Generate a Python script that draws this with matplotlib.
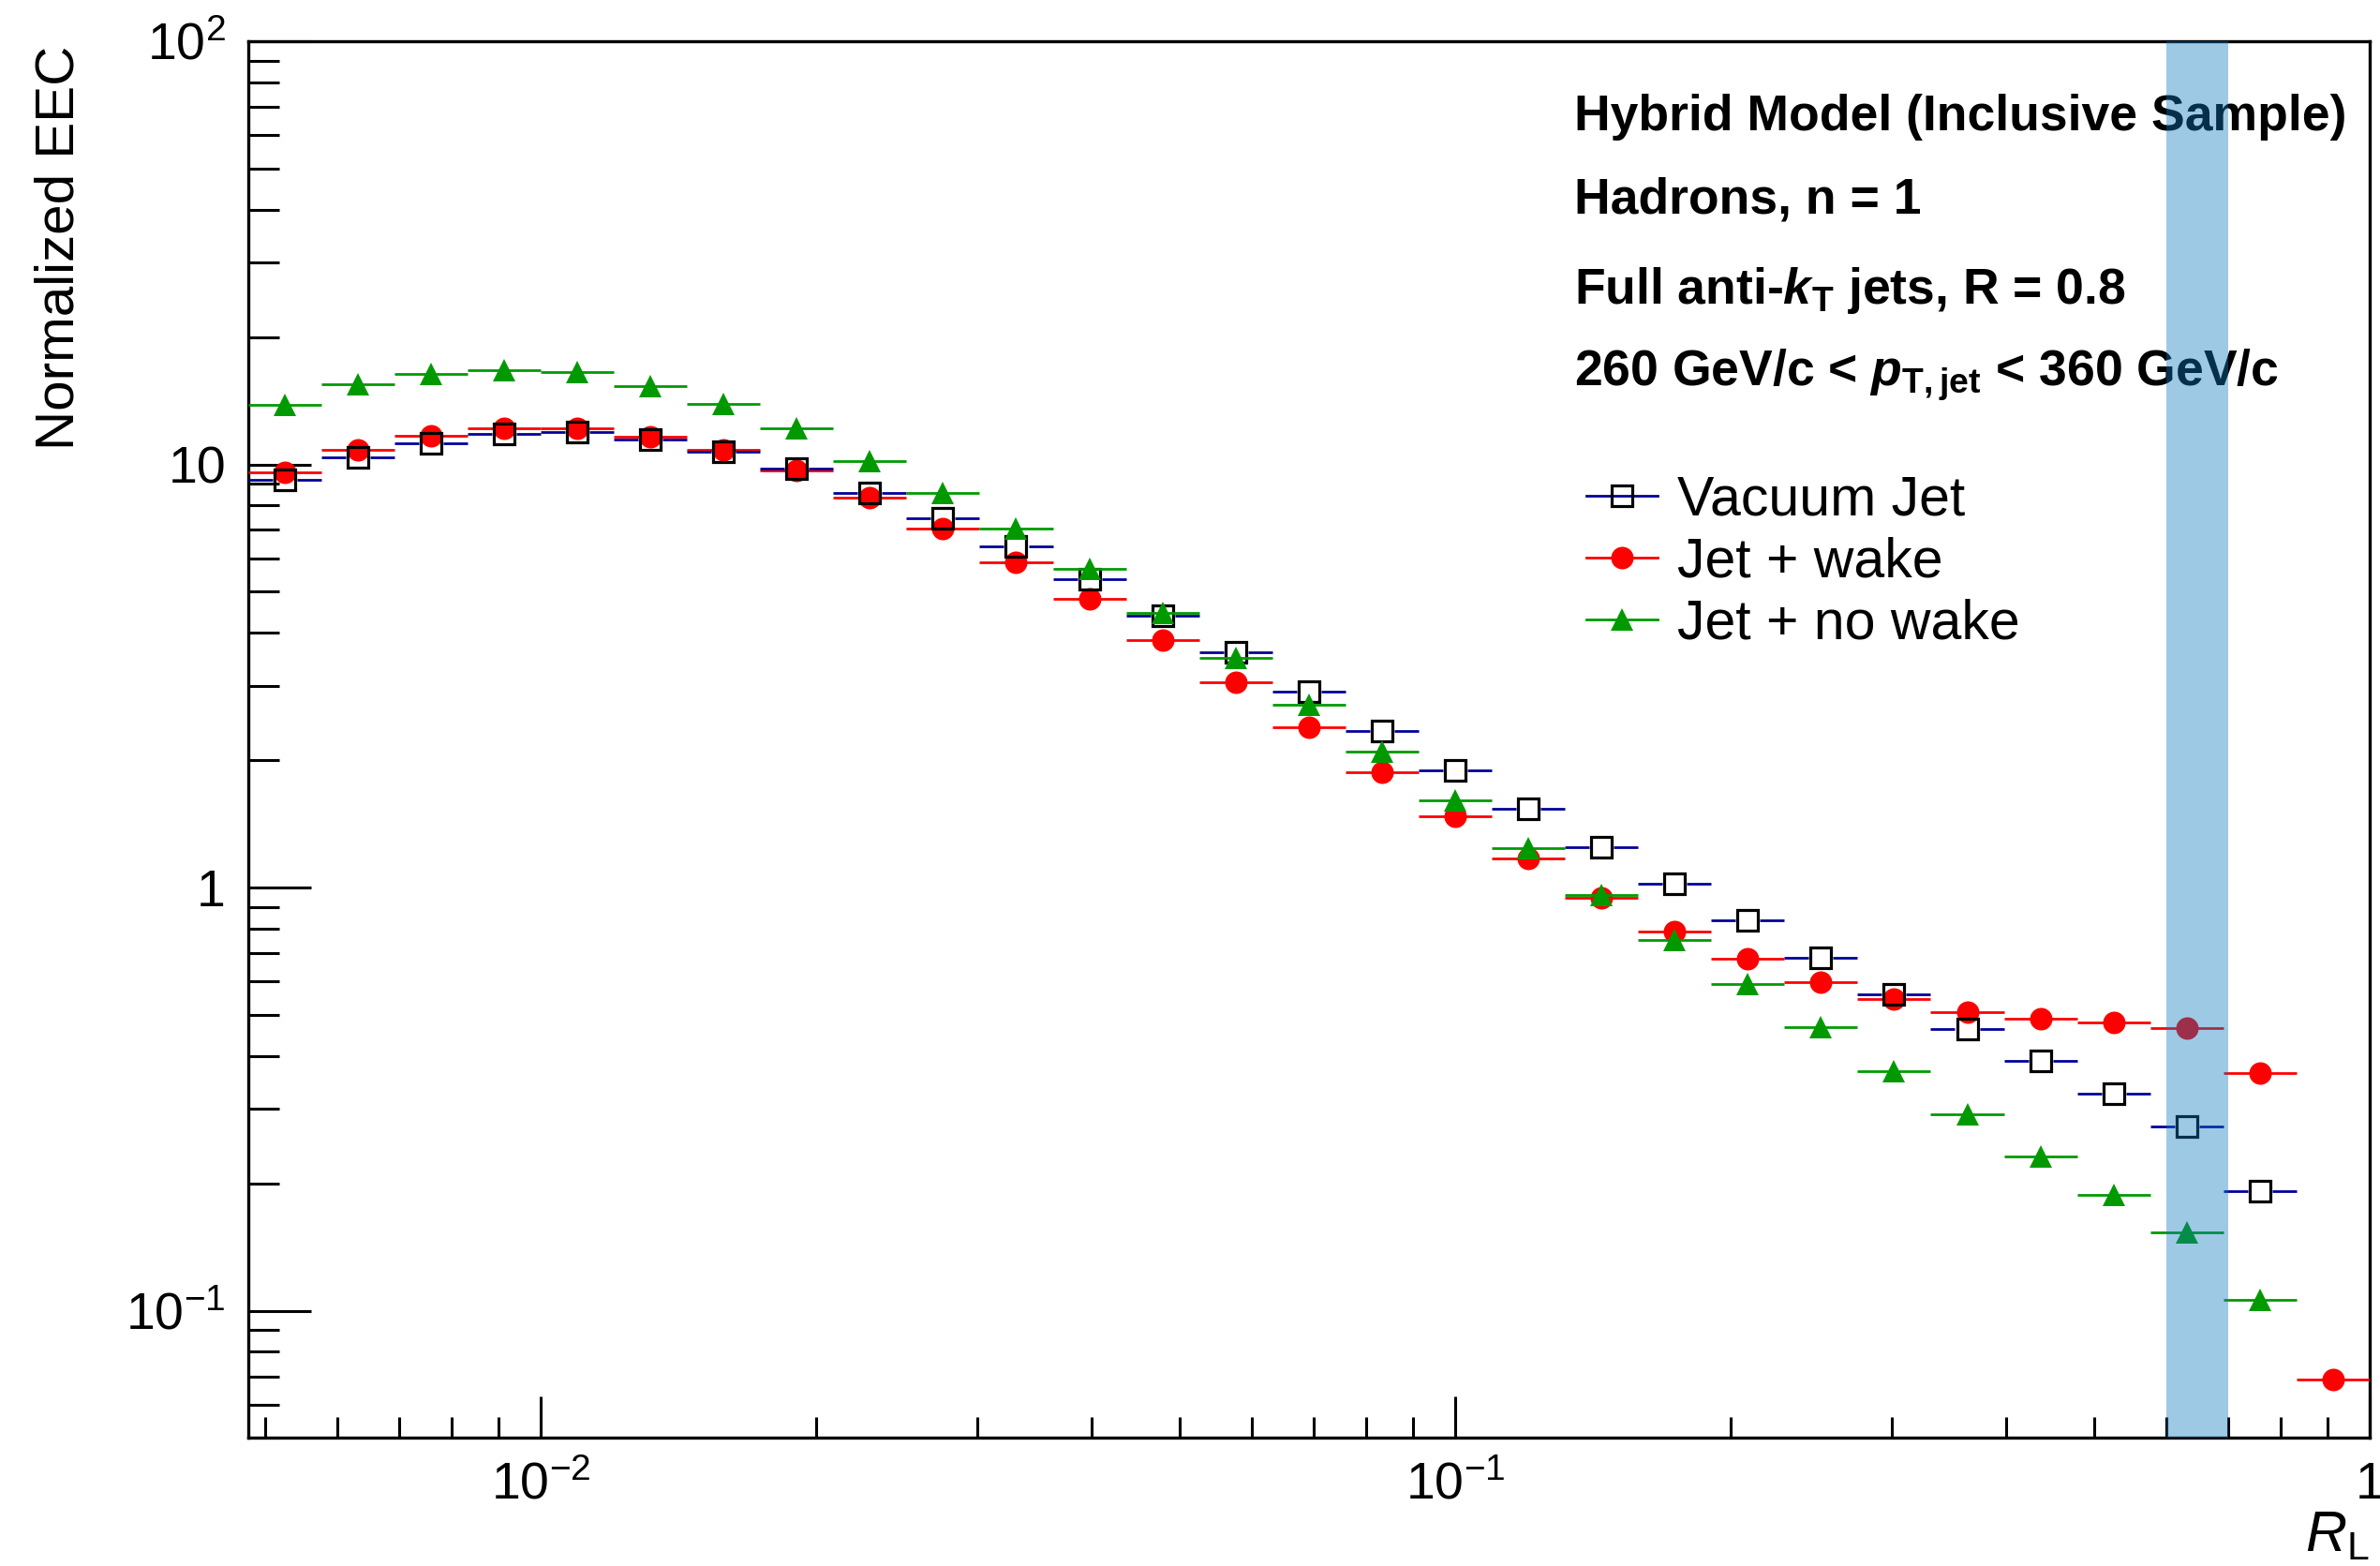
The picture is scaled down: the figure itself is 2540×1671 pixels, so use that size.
import numpy as np
import matplotlib
matplotlib.use("Agg")
import matplotlib.pyplot as plt
from matplotlib.lines import Line2D
from matplotlib.ticker import FixedLocator, FixedFormatter, LogLocator, NullFormatter

plt.rcParams.update({
    "font.family": ["Liberation Sans", "DejaVu Sans"],
    "mathtext.fontset": "custom",
    "mathtext.rm": "Liberation Sans",
    "mathtext.it": "Liberation Sans:italic",
    "mathtext.bf": "Liberation Sans:bold",
    "mathtext.bfit": "Liberation Sans:bold:italic",
})

# Logarithmic R_L binning (29 bins)
bin_edges = [0.004786, 0.005754, 0.006918, 0.008318, 0.01, 0.01202, 0.01445,
             0.01738, 0.02089, 0.02512, 0.0302, 0.03631, 0.04365, 0.05248,
             0.0631, 0.07586, 0.0912, 0.1096, 0.1318, 0.1585, 0.1905, 0.2291,
             0.2754, 0.3311, 0.3981, 0.4786, 0.5754, 0.6918, 0.8318, 1.0]

vacuum_jet = [9.20, 10.39, 11.24, 11.80, 11.94, 11.47, 10.71, 9.76, 8.55, 7.46,
              6.39, 5.35, 4.38, 3.59, 2.90, 2.35, 1.893, 1.538, 1.247, 1.019,
              0.835, 0.682, 0.559, 0.464, 0.389, 0.325, 0.272, 0.192, np.nan]
jet_wake = [9.58, 10.80, 11.68, 12.18, 12.18, 11.63, 10.80, 9.66, 8.35, 7.04,
            5.88, 4.80, 3.84, 3.05, 2.39, 1.87, 1.471, 1.171, 0.948, 0.789,
            0.678, 0.598, 0.544, 0.507, 0.491, 0.480, 0.466, 0.364, 0.0688]
jet_no_wake = [13.83, 15.43, 16.39, 16.72, 16.49, 15.30, 13.89, 12.16, 10.2, 8.55,
               7.04, 5.66, 4.45, 3.49, 2.70, 2.09, 1.611, 1.242, 0.959, 0.753,
               0.591, 0.467, 0.368, 0.291, 0.232, 0.188, 0.153, 0.106, np.nan]

highlight_range = (0.6, 0.7)
y_range = (0.05, 100)

labels = ["Vacuum Jet", "Jet + wake", "Jet + no wake"]
info_lines = [
    "Hybrid Model (Inclusive Sample)",
    "Hadrons, n = 1",
    r"Full anti-$\mathbfit{k}_{\mathbf{T}}$ jets, R = 0.8",
    r"260 GeV/c < $\mathbfit{p}_{\mathbf{T,jet}}$ < 360 GeV/c",
]

W, H = 2540, 1671
fig = plt.figure(figsize=(W / 100, H / 100), dpi=100)
ax = fig.add_axes([0.10417, 0.08169, 0.8915, 0.89198])
ax.set_xscale("log")
ax.set_yscale("log")
ax.set_xlim(bin_edges[0], bin_edges[-1])
ax.set_ylim(*y_range)

edges = np.array(bin_edges)
lo, hi = edges[:-1], edges[1:]
centers = np.sqrt(lo * hi)

MS = 16.5
styles = {
    "Vacuum Jet": dict(values=vacuum_jet, color="#000099", marker="s", mfc="none",
                       mec="black", mew=2.3, ms=MS, gap=True, z=4),
    "Jet + wake": dict(values=jet_wake, color="#ff0000", marker="o", mfc="#ff0000",
                       mec="#ff0000", mew=0, ms=MS + 0.8, gap=False, z=3),
    "Jet + no wake": dict(values=jet_no_wake, color="#009a00", marker="^", mfc="#009a00",
                          mec="#009a00", mew=0, ms=MS + 0.5, gap=False, z=5),
}

to_disp = ax.transData
to_data = ax.transData.inverted()

for name in ["Jet + wake", "Vacuum Jet", "Jet + no wake"]:
    st = styles[name]
    vals = np.array(st["values"], float)
    ok = np.isfinite(vals)
    half_px = (st["ms"] + st["mew"]) * fig.dpi / 72 / 2 if st["gap"] else 0.0
    for l, h, c, v in zip(lo[ok], hi[ok], centers[ok], vals[ok]):
        cx, cy = to_disp.transform((c, v))
        left = to_data.transform((cx - half_px, cy))[0]
        right = to_data.transform((cx + half_px, cy))[0]
        ax.plot([l, left], [v, v], color=st["color"], lw=2.0, solid_capstyle="butt",
                zorder=st["z"])
        ax.plot([right, h], [v, v], color=st["color"], lw=2.0, solid_capstyle="butt",
                zorder=st["z"])
    ax.plot(centers[ok], vals[ok], ls="none", marker=st["marker"], ms=st["ms"],
            mfc=st["mfc"], mec=st["mec"], mew=st["mew"], zorder=st["z"] + 0.1)

# highlighted R_L window
ax.axvspan(*highlight_range, color=(0.05, 0.47, 0.745), alpha=0.4, lw=0, zorder=6)

# axis ticks
ax.xaxis.set_major_locator(FixedLocator([0.01, 0.1, 1.0]))
ax.xaxis.set_major_formatter(FixedFormatter([r"$10^{-2}$", r"$10^{-1}$", "1"]))
ax.xaxis.set_minor_locator(LogLocator(base=10, subs=np.arange(2, 10), numticks=20))
ax.xaxis.set_minor_formatter(NullFormatter())
ax.yaxis.set_major_locator(FixedLocator([0.1, 1, 10, 100]))
ax.yaxis.set_major_formatter(FixedFormatter([r"$10^{-1}$", "1", "10", r"$10^{2}$"]))
ax.yaxis.set_minor_locator(LogLocator(base=10, subs=np.arange(2, 10), numticks=20))
ax.yaxis.set_minor_formatter(NullFormatter())

ax.tick_params(axis="both", which="both", direction="in", width=2.2, color="black",
               top=False, right=False, labelsize=40)
ax.tick_params(axis="y", which="major", length=48, pad=17)
ax.tick_params(axis="y", which="minor", length=24)
ax.tick_params(axis="x", which="major", length=31.7, pad=18)
ax.tick_params(axis="x", which="minor", length=15.8)
for sp in ax.spines.values():
    sp.set_linewidth(2.4)

ax.set_ylabel("Normalized EEC", fontsize=42, loc="top")
ax.yaxis.set_label_coords(-0.0771, 0.9966)
ax.set_xlabel(r"$\mathit{R}_{\mathrm{L}}$", fontsize=44, loc="right")
ax.xaxis.set_label_coords(1.0, -0.0808)
ax.xaxis.label.set_va("baseline")

# annotation block
baselines = [139, 227, 324, 412]
for s, yb in zip(info_lines, baselines):
    ax.text(1680 / W, 1 - yb / H, s, transform=fig.transFigure, fontsize=38.5,
            fontweight="bold", ha="left", va="baseline", zorder=1)

handles = []
for name in labels:
    st = styles[name]
    handles.append(Line2D([], [], color=st["color"], lw=2.0, marker=st["marker"],
                          ms=st["ms"], mfc=st["mfc"], mec=st["mec"], mew=st["mew"]))
ax.legend(handles, labels, loc="upper left", bbox_to_anchor=(1693 / W, 1 - 507 / H),
          bbox_transform=fig.transFigure, frameon=False, fontsize=42.5,
          handlelength=1.29, handletextpad=0.36, labelspacing=0.18, borderpad=0,
          borderaxespad=0, markerscale=1)

fig.savefig("out.png", dpi=100)
